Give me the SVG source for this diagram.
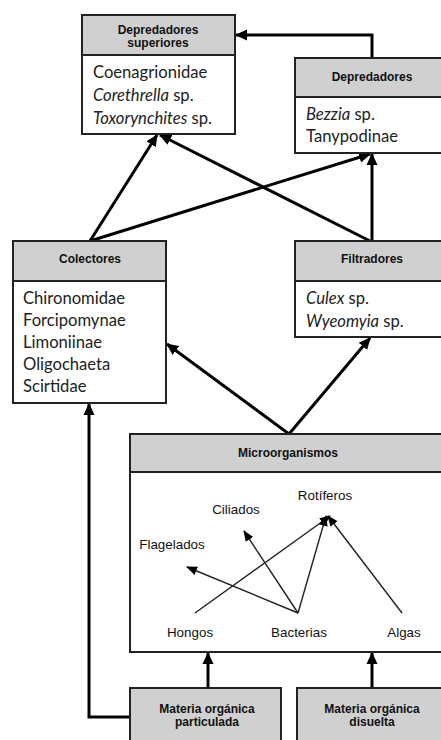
<svg xmlns="http://www.w3.org/2000/svg" width="441" height="740" viewBox="0 0 441 740">
<style>
.box{fill:#fff;stroke:#222;stroke-width:2}
.hdr{fill:#d0d0d0;stroke:#222;stroke-width:2}
.ht{font-family:"Liberation Sans",Arial,sans-serif;font-weight:bold;font-size:12px;fill:#111;text-anchor:middle}
.bt{font-family:Lato,"Liberation Sans",sans-serif;font-size:16.6px;fill:#222}
.mt{font-family:"Liberation Sans",Arial,sans-serif;font-size:13.4px;fill:#111;text-anchor:middle}
.ar{fill:none;stroke:#000;stroke-width:3}
.thin{fill:none;stroke:#222;stroke-width:1.4}
</style>
<defs>
<marker id="ah" markerUnits="userSpaceOnUse" markerWidth="12" markerHeight="12" viewBox="0 0 12 12" refX="11" refY="6" orient="auto">
<path d="M0,0.5 L12,6 L0,11.5 z" fill="#000"/>
</marker>
<marker id="as" markerUnits="userSpaceOnUse" markerWidth="11" markerHeight="11" viewBox="0 0 11 11" refX="10" refY="5.5" orient="auto">
<path d="M0,1 L11,5.5 L0,10 z" fill="#000"/>
</marker>
</defs>

<g id="connectors">
<polyline class="ar" points="372,58 372,35 236,35" marker-end="url(#ah)"/>
<line class="ar" x1="90" y1="241" x2="157" y2="135" marker-end="url(#ah)"/>
<line class="ar" x1="90" y1="241" x2="370" y2="154" marker-end="url(#ah)"/>
<line class="ar" x1="370" y1="241" x2="160" y2="135" marker-end="url(#ah)"/>
<line class="ar" x1="372" y1="241" x2="372" y2="154" marker-end="url(#ah)"/>
<line class="ar" x1="289" y1="434" x2="167" y2="344" marker-end="url(#ah)"/>
<line class="ar" x1="289" y1="434" x2="370" y2="338" marker-end="url(#ah)"/>
<line class="ar" x1="208" y1="688" x2="208" y2="653" marker-end="url(#ah)"/>
<line class="ar" x1="372" y1="688" x2="372" y2="653" marker-end="url(#ah)"/>
<polyline class="ar" points="130,717 89,717 89,404" marker-end="url(#ah)"/>
</g>

<g id="depredadores-superiores">
<rect class="box" x="82" y="15" width="153" height="119"/>
<rect class="hdr" x="82" y="15" width="153" height="40"/>
<text class="ht" x="158" y="34">Depredadores</text>
<text class="ht" x="158" y="47">superiores</text>
<text class="bt" x="93" y="78">Coenagrionidae</text>
<text class="bt" x="93" y="101"><tspan font-style="italic">Corethrella</tspan> sp.</text>
<text class="bt" x="93" y="124"><tspan font-style="italic">Toxorynchites</tspan> sp.</text>
</g>

<g id="depredadores">
<rect class="box" x="295" y="58" width="156" height="95"/>
<rect class="hdr" x="295" y="58" width="156" height="39"/>
<text class="ht" x="372" y="81">Depredadores</text>
<text class="bt" x="306" y="120"><tspan font-style="italic">Bezzia</tspan> sp.</text>
<text class="bt" x="306" y="142">Tanypodinae</text>
</g>

<g id="colectores">
<rect class="box" x="13" y="241" width="153" height="162"/>
<rect class="hdr" x="13" y="241" width="153" height="40"/>
<text class="ht" x="90" y="263">Colectores</text>
<text class="bt" x="23" y="304">Chironomidae</text>
<text class="bt" x="23" y="326">Forcipomynae</text>
<text class="bt" x="23" y="348">Limoniinae</text>
<text class="bt" x="23" y="370">Oligochaeta</text>
<text class="bt" x="23" y="392">Scirtidae</text>
</g>

<g id="filtradores">
<rect class="box" x="295" y="241" width="156" height="96"/>
<rect class="hdr" x="295" y="241" width="156" height="40"/>
<text class="ht" x="372" y="263">Filtradores</text>
<text class="bt" x="306" y="304"><tspan font-style="italic">Culex</tspan> sp.</text>
<text class="bt" x="306" y="327"><tspan font-style="italic">Wyeomyia</tspan> sp.</text>
</g>

<g id="microorganismos">
<rect class="box" x="130" y="434" width="321" height="218"/>
<rect class="hdr" x="130" y="434" width="321" height="38"/>
<text class="ht" x="288" y="457">Microorganismos</text>
<text class="mt" x="325" y="500">Rotíferos</text>
<text class="mt" x="236" y="514">Ciliados</text>
<text class="mt" x="172" y="549">Flagelados</text>
<text class="mt" x="190" y="637">Hongos</text>
<text class="mt" x="299" y="637">Bacterias</text>
<text class="mt" x="404" y="637">Algas</text>
<g id="micro-links">
<line class="thin" x1="195" y1="613" x2="330" y2="516" marker-end="url(#as)"/>
<line class="thin" x1="298" y1="613" x2="326" y2="516" marker-end="url(#as)"/>
<line class="thin" x1="402" y1="613" x2="328" y2="516" marker-end="url(#as)"/>
<line class="thin" x1="298" y1="613" x2="244" y2="531" marker-end="url(#as)"/>
<line class="thin" x1="298" y1="613" x2="187" y2="567" marker-end="url(#as)"/>
</g>
</g>

<g id="materia-particulada">
<rect class="hdr" x="130" y="688" width="151" height="60"/>
<text class="ht" x="207" y="713">Materia orgánica</text>
<text class="ht" x="207" y="726">particulada</text>
</g>

<g id="materia-disuelta">
<rect class="hdr" x="297" y="688" width="154" height="60"/>
<text class="ht" x="372" y="713">Materia orgánica</text>
<text class="ht" x="372" y="726">disuelta</text>
</g>
</svg>
